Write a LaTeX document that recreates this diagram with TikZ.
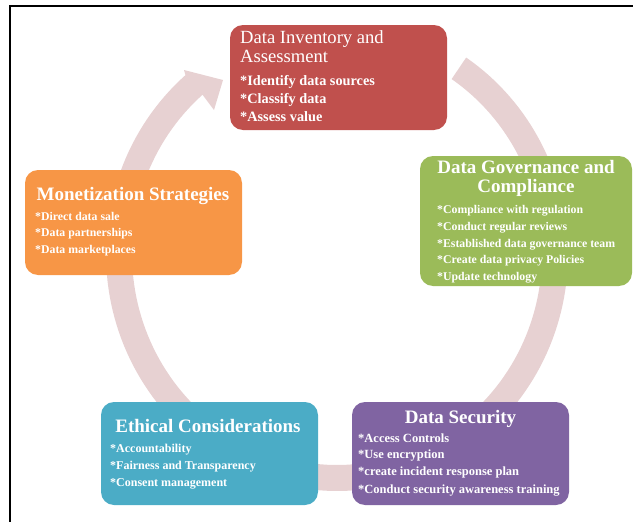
\documentclass[tikz,border=0pt]{standalone}
\usepackage{fontspec}
\setmainfont{Liberation Serif}
\definecolor{ringpink}{HTML}{E7D1D2}
\definecolor{invred}{HTML}{C0504D}
\definecolor{govgreen}{HTML}{9BBB59}
\definecolor{monorange}{HTML}{F79646}
\definecolor{ethteal}{HTML}{4BACC6}
\definecolor{secpurple}{HTML}{8064A2}
\begin{document}
\begin{tikzpicture}[x=1pt,y=-1pt,
  box/.style={rounded corners=13pt, draw=none, inner sep=0pt, minimum width=217pt},
  ttl/.style={text=white, inner sep=0pt, anchor=base, font=\fontsize{19}{22}\selectfont\bfseries},
  ttlplain/.style={text=white, inner sep=0pt, anchor=base west, font=\fontsize{18.6}{22}\selectfont},
  itm/.style={text=white, inner sep=0pt, anchor=base west, font=\fontsize{#1}{16}\selectfont\bfseries},
  itm/.default=12,
]
\useasboundingbox (0,0) rectangle (633,522);

% frame lines
\draw[line width=1.5pt] (10,522) -- (10,6) -- (633,6);

% circular arrow behind the stages
\fill[ringpink]
  plot[domain=-56:229, samples=160] ({337+231*cos(\x)},{254+237*sin(\x)})
  -- (184,70) -- (223,80) -- (214,110)
  -- plot[domain=229:-56, samples=160] ({337+205*cos(\x)},{254+211*sin(\x)})
  -- cycle;

% stage boxes
\node[box, fill=invred,    minimum height=105pt] (inv) at (338.5,77.5) {};
\node[box, fill=govgreen,  minimum width=212pt, minimum height=130pt] (gov) at (526,221) {};
\node[box, fill=monorange, minimum height=105pt] (mon) at (133.5,222.5) {};
\node[box, fill=ethteal,   minimum height=103pt] (eth) at (209.5,453.5) {};
\node[box, fill=secpurple, minimum height=103pt] (sec) at (460.5,453.5) {};

% Data Inventory and Assessment
\node[ttlplain] (inv-t1) at (240,43.5) {Data Inventory and};
\node[ttlplain] (inv-t2) at (240,63) {Assessment};
\node[itm=14.3] (inv-i1) at (240,85)  {*Identify data sources};
\node[itm=14.3] (inv-i2) at (240,103) {*Classify data};
\node[itm=14.3] (inv-i3) at (240,121) {*Assess value};

% Data Governance and Compliance
\node[ttl] (gov-t1) at (526,173) {Data Governance and};
\node[ttl] (gov-t2) at (526,192) {Compliance};
\node[itm=11.8] (gov-i1) at (437,213) {*Compliance with regulation};
\node[itm=11.8] (gov-i2) at (437,230) {*Conduct regular reviews};
\node[itm=11.8] (gov-i3) at (437,247) {*Established data governance team};
\node[itm=11.8] (gov-i4) at (437,263.5) {*Create data privacy Policies};
\node[itm=11.8] (gov-i5) at (437,280) {*Update technology};

% Monetization Strategies
\node[ttl] (mon-t1) at (133,200) {Monetization Strategies};
\node[itm=11.8] (mon-i1) at (35,220)   {*Direct data sale};
\node[itm=11.8] (mon-i2) at (35,236.5) {*Data partnerships};
\node[itm=11.8] (mon-i3) at (35,253)   {*Data marketplaces};

% Ethical Considerations
\node[ttl] (eth-t1) at (208,432) {Ethical Considerations};
\node[itm=12] (eth-i1) at (110,452) {*Accountability};
\node[itm=12] (eth-i2) at (110,469) {*Fairness and Transparency};
\node[itm=12] (eth-i3) at (110,486) {*Consent management};

% Data Security
\node[ttl] (sec-t1) at (460.5,423) {Data Security};
\node[itm=12.5] (sec-i1) at (358,442)   {*Access Controls};
\node[itm=12.5] (sec-i2) at (358,458.5) {*Use encryption};
\node[itm=12.5] (sec-i3) at (358,475)   {*create incident response plan};
\node[itm=12.5] (sec-i4) at (358,493)   {*Conduct security awareness training};
\end{tikzpicture}
\end{document}
